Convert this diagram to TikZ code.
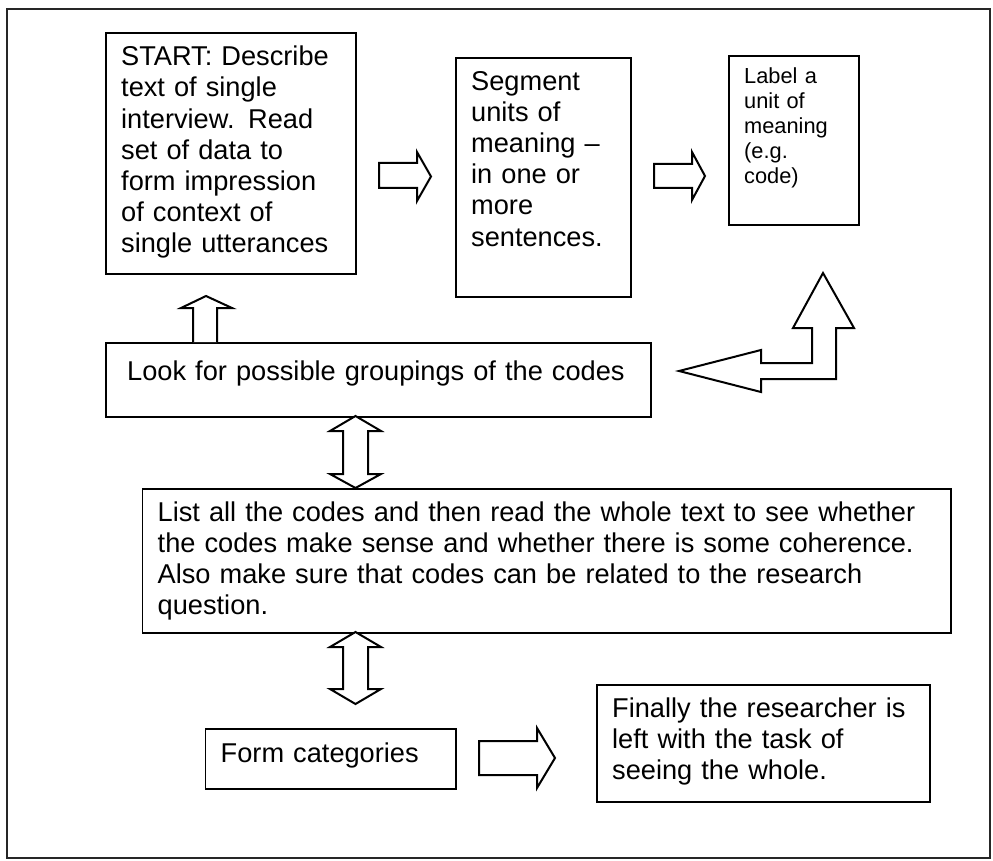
\documentclass[tikz,border=0pt]{standalone}
\usepackage{fontspec}
\setmainfont{Liberation Sans}
\begin{document}
\begin{tikzpicture}[x=1pt,y=-1pt,
  framest/.style={draw=black!85, line width=2.6pt},
  boxst/.style={draw=black, line width=1.8pt, fill=white, inner sep=0pt, anchor=north west},
  txt/.style={inner sep=0pt, anchor=north west, align=left, text width=900pt, font=\fontsize{27.2}{31.2}\selectfont},
  smalltxt/.style={inner sep=0pt, anchor=north west, align=left, text width=300pt, font=\fontsize{21.8}{25}\selectfont},
  blockarrow/.style={draw=black, line width=2pt, fill=white, line join=miter}]
\useasboundingbox (0,0) rectangle (993,861);
\draw[framest] (7,9) rectangle (990,858);

% boxes
\node[boxst, minimum width=250pt, minimum height=240.5pt] (b1) at (105,32.5) {};
\node[boxst, minimum width=175pt, minimum height=239pt] (b2) at (455,57) {};
\node[boxst, minimum width=130pt, minimum height=169pt] (b3) at (728,55) {};
\node[boxst, minimum width=545pt, minimum height=74pt] (b4) at (105,342) {};
\node[boxst, minimum width=808.5pt, minimum height=144pt] (b5) at (141.5,488) {};
\node[boxst, minimum width=250.5pt, minimum height=60pt] (b6) at (204.5,728) {};
\node[boxst, minimum width=333pt, minimum height=117pt] (b7) at (596,684) {};

% texts
\node[txt] (t1) at ([shift={(16pt,-8.4pt)}]b1.north west)
  {\rule{0pt}{24.6pt}START: Describe\\text of single\\interview. Read\\set of data to\\form impression\\of context of\\single utterances};
\node[txt] (t2) at ([shift={(16pt,-8.4pt)}]b2.north west)
  {\rule{0pt}{24.6pt}Segment\\units of\\meaning –\\in one or\\more\\sentences.};
\node[smalltxt] (t3) at ([shift={(16pt,-8.4pt)}]b3.north west)
  {\rule{0pt}{19.7pt}Label a\\unit of\\meaning\\(e.g.\\code)};
\node[txt] (t4) at ([shift={(22pt,-13.4pt)}]b4.north west)
  {\rule{0pt}{24.6pt}Look for possible groupings of the codes};
\node[txt] (t5) at ([shift={(16pt,-8.4pt)}]b5.north west)
  {\rule{0pt}{24.6pt}List all the codes and then read the whole text to see whether\\the codes make sense and whether there is some coherence.\\Also make sure that codes can be related to the research\\question.};
\node[txt] (t6) at ([shift={(16pt,-9.4pt)}]b6.north west)
  {\rule{0pt}{24.6pt}Form categories};
\node[txt] (t7) at ([shift={(16pt,-8.4pt)}]b7.north west)
  {\rule{0pt}{24.6pt}Finally the researcher is\\left with the task of\\seeing the whole.};

% block arrows
\draw[blockarrow] (379,163) -- (417,163) -- (417,152) -- (431,176.5) -- (417,201) -- (417,188) -- (379,188) -- cycle;
\draw[blockarrow] (654,164) -- (692,164) -- (692,152) -- (705,176) -- (692,200) -- (692,188) -- (654,188) -- cycle;
\draw[blockarrow] (479,741) -- (537,741) -- (537,728) -- (555,758) -- (537,788) -- (537,775) -- (479,775) -- cycle;
\draw[blockarrow] (193,342) -- (193,308) -- (181,308) -- (206,296) -- (232,308) -- (217,308) -- (217,342);
\draw[blockarrow] (355.5,416) -- (381,431) -- (368,431) -- (368,474) -- (381,474) -- (355.5,488) -- (330,474) -- (343,474) -- (343,431) -- (330,431) -- cycle;
\draw[blockarrow] (355.5,632) -- (381,647) -- (368,647) -- (368,689) -- (381,689) -- (355.5,704) -- (330,689) -- (343,689) -- (343,647) -- (330,647) -- cycle;
\draw[blockarrow] (679,371) -- (761,350) -- (761,363) -- (812,363) -- (812,328) -- (793,328) -- (823,273) -- (854,328) -- (836,328) -- (836,379) -- (761,379) -- (761,392) -- cycle;
\end{tikzpicture}
\end{document}
